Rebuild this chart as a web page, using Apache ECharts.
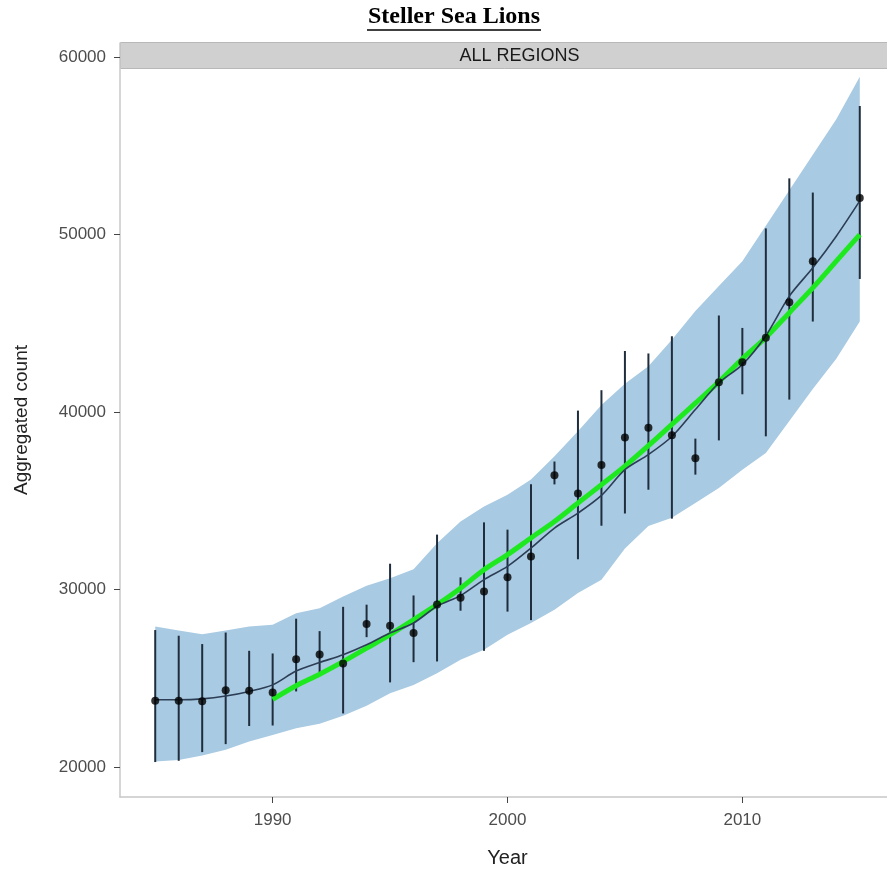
<!DOCTYPE html>
<html>
<head>
<meta charset="utf-8">
<script src="https://cdn.jsdelivr.net/npm/echarts@6/dist/echarts.min.js"></script>
<style>
  html, body { margin: 0; padding: 0; background: #fff; }
  #main { width: 887px; height: 872px; }
</style>
</head>
<body>
<div id="main"></div>
<script>
// survey years with a count (no count in 2014)
var obsYears = [1985, 1986, 1987, 1988, 1989, 1990, 1991, 1992, 1993, 1994, 1995, 1996, 1997, 1998, 1999,
    2000, 2001, 2002, 2003, 2004, 2005, 2006, 2007, 2008, 2009, 2010, 2011, 2012, 2013, 2015];
var obsCount = [23720, 23720, 23700, 24320, 24290, 24190, 26070, 26330, 25830, 28050, 27950, 27540, 29150, 29530, 29890,
    30680, 31860, 36430, 35410, 37010, 38570, 39110, 38690, 37400, 41680, 42810, 44180, 46190, 48500, 52070];
var obsLow = [20270, 20340, 20830, 21280, 22300, 22330, 24250, 25340, 23010, 27310, 24760, 25900, 25940, 28800, 26540,
    28750, 28270, 35920, 31700, 33590, 34280, 35620, 33990, 36470, 38400, 41000, 38630, 40700, 45100, 47500];
var obsHigh = [27710, 27390, 26920, 27570, 26540, 26390, 28350, 27650, 29020, 29140, 31450, 29660, 33090, 30680, 33780,
    33370, 35930, 37210, 40080, 41230, 43440, 43300, 44270, 38500, 45440, 44740, 50350, 53170, 52370, 57250];

// smoothed estimate and its band, every year
var fitYears = [1985, 1986, 1987, 1988, 1989, 1990, 1991, 1992, 1993, 1994, 1995, 1996, 1997, 1998, 1999, 2000,
    2001, 2002, 2003, 2004, 2005, 2006, 2007, 2008, 2009, 2010, 2011, 2012, 2013, 2014, 2015];
var fitLine = [23780, 23780, 23830, 23990, 24250, 24620, 25400, 25880, 26320, 26880, 27540, 28110, 29050, 29650, 30550, 31300,
    32330, 33460, 34300, 35300, 36750, 37600, 38620, 40140, 41640, 42670, 44300, 46530, 48130, 49910, 51900];
var bandLow = [20300, 20390, 20640, 20960, 21430, 21800, 22180, 22430, 22880, 23440, 24150, 24620, 25280, 26030, 26600, 27450,
    28110, 28850, 29800, 30550, 32300, 33570, 34040, 34870, 35720, 36750, 37690, 39500, 41300, 43000, 45100];
var bandHigh = [27910, 27690, 27480, 27690, 27910, 28010, 28660, 28940, 29600, 30210, 30630, 31140, 32600, 33830, 34680, 35340,
    36190, 37500, 38910, 40400, 41600, 42580, 44080, 45690, 47100, 48500, 50500, 52500, 54500, 56500, 58900];

// trend since 1990
var trendYears = [1990, 1991, 1992, 1993, 1994, 1995, 1996, 1997, 1998, 1999, 2000, 2001, 2002,
    2003, 2004, 2005, 2006, 2007, 2008, 2009, 2010, 2011, 2012, 2013, 2014, 2015];
var trendLine = [23800, 24570, 25220, 25930, 26690, 27450, 28290, 29140, 30070, 31110, 31960, 32900, 33830,
    34870, 35900, 36950, 38100, 39300, 40500, 41700, 43000, 44200, 45600, 47000, 48500, 50000];

var yTicks = [20000, 30000, 40000, 50000, 60000];
var xTicks = [1990, 2000, 2010];

var myChart = echarts.init(document.getElementById('main'));

var zip = function (xs, ys) {
    return xs.map(function (x, i) { return [x, ys[i]]; });
};
var plain = function (v) { return String(v); };

option = {
    animation: false,
    grid: {
        left: 120,
        top: 43,
        width: 775,
        height: 754,
        containLabel: false,
        outerBoundsMode: 'none'
    },
    xAxis: {
        type: 'value',
        min: 1983.5,
        max: 2016.5,
        name: 'Year',
        nameLocation: 'middle',
        nameGap: 51,
        nameTextStyle: { color: '#222', fontSize: 20, fontFamily: 'Liberation Sans' },
        axisLine: { lineStyle: { color: '#c8c8c8', width: 1.5 } },
        axisTick: { show: true, length: 6, lineStyle: { color: '#444' }, customValues: xTicks },
        axisLabel: { color: '#4d4d4d', fontSize: 17, margin: 15, fontFamily: 'Liberation Sans',
            customValues: xTicks, formatter: plain },
        splitLine: { show: false }
    },
    yAxis: {
        type: 'value',
        min: 18300,
        max: 60800,
        name: 'Aggregated count',
        nameLocation: 'middle',
        nameGap: 89,
        nameTextStyle: { color: '#222', fontSize: 19, fontFamily: 'Liberation Sans' },
        axisLine: { show: true, lineStyle: { color: '#c8c8c8', width: 1.5 } },
        axisTick: { show: true, length: 6, lineStyle: { color: '#444' }, customValues: yTicks },
        axisLabel: { color: '#4d4d4d', fontSize: 17, margin: 14, fontFamily: 'Liberation Sans',
            customValues: yTicks, formatter: plain },
        splitLine: { show: false }
    },
    graphic: [
        {
            type: 'text',
            x: 454,
            y: 17,
            style: {
                text: 'Steller Sea Lions',
                fill: '#000',
                font: 'bold 24px "Liberation Serif"',
                align: 'center',
                verticalAlign: 'middle'
            }
        },
        {
            type: 'line',
            shape: { x1: 367, y1: 30, x2: 541, y2: 30 },
            style: { stroke: '#000', lineWidth: 1.3 }
        },
        {
            type: 'group',
            left: 120,
            top: 42,
            z: 100,
            children: [
                {
                    type: 'rect',
                    shape: { x: 0, y: 0, width: 775, height: 26 },
                    style: { fill: '#d0d0d0', stroke: '#b8b8b8', lineWidth: 1 }
                },
                {
                    type: 'text',
                    x: 399,
                    y: 14,
                    style: {
                        text: 'ALL REGIONS',
                        fill: '#1a1a1a',
                        font: '18px "Liberation Sans"',
                        align: 'center',
                        verticalAlign: 'middle'
                    }
                }
            ]
        }
    ],
    series: [
        {
            name: 'band',
            type: 'custom',
            z: 1,
            silent: true,
            data: fitYears.map(function (y, i) { return [y, bandLow[i], bandHigh[i]]; }),
            renderItem: function (params, api) {
                if (params.dataIndex !== 0) return;
                var pts = [];
                for (var i = 0; i < fitYears.length; i++) {
                    pts.push(api.coord([fitYears[i], bandHigh[i]]));
                }
                for (var j = fitYears.length - 1; j >= 0; j--) {
                    pts.push(api.coord([fitYears[j], bandLow[j]]));
                }
                return {
                    type: 'polygon',
                    shape: { points: pts },
                    style: { fill: '#a8cae2' }
                };
            }
        },
        {
            name: 'errors',
            type: 'custom',
            z: 2,
            silent: true,
            data: obsYears.map(function (y, i) { return [y, obsLow[i], obsHigh[i]]; }),
            renderItem: function (params, api) {
                var p1 = api.coord([api.value(0), api.value(1)]);
                var p2 = api.coord([api.value(0), api.value(2)]);
                return {
                    type: 'line',
                    shape: { x1: p1[0], y1: p1[1], x2: p2[0], y2: p2[1] },
                    style: { stroke: '#1f2d3d', lineWidth: 2 }
                };
            }
        },
        {
            name: 'trend',
            type: 'line',
            z: 3,
            data: zip(trendYears, trendLine),
            smooth: 0.3,
            symbol: 'none',
            lineStyle: { color: '#1ee81e', width: 5 }
        },
        {
            name: 'fit',
            type: 'line',
            z: 4,
            data: zip(fitYears, fitLine),
            smooth: 0.3,
            symbol: 'none',
            lineStyle: { color: '#2c3e55', width: 1.6 }
        },
        {
            name: 'count',
            type: 'scatter',
            z: 5,
            data: zip(obsYears, obsCount),
            symbol: 'circle',
            symbolSize: 8,
            itemStyle: { color: '#000' }
        }
    ]
};
myChart.setOption(option);
</script>
</body>
</html>
